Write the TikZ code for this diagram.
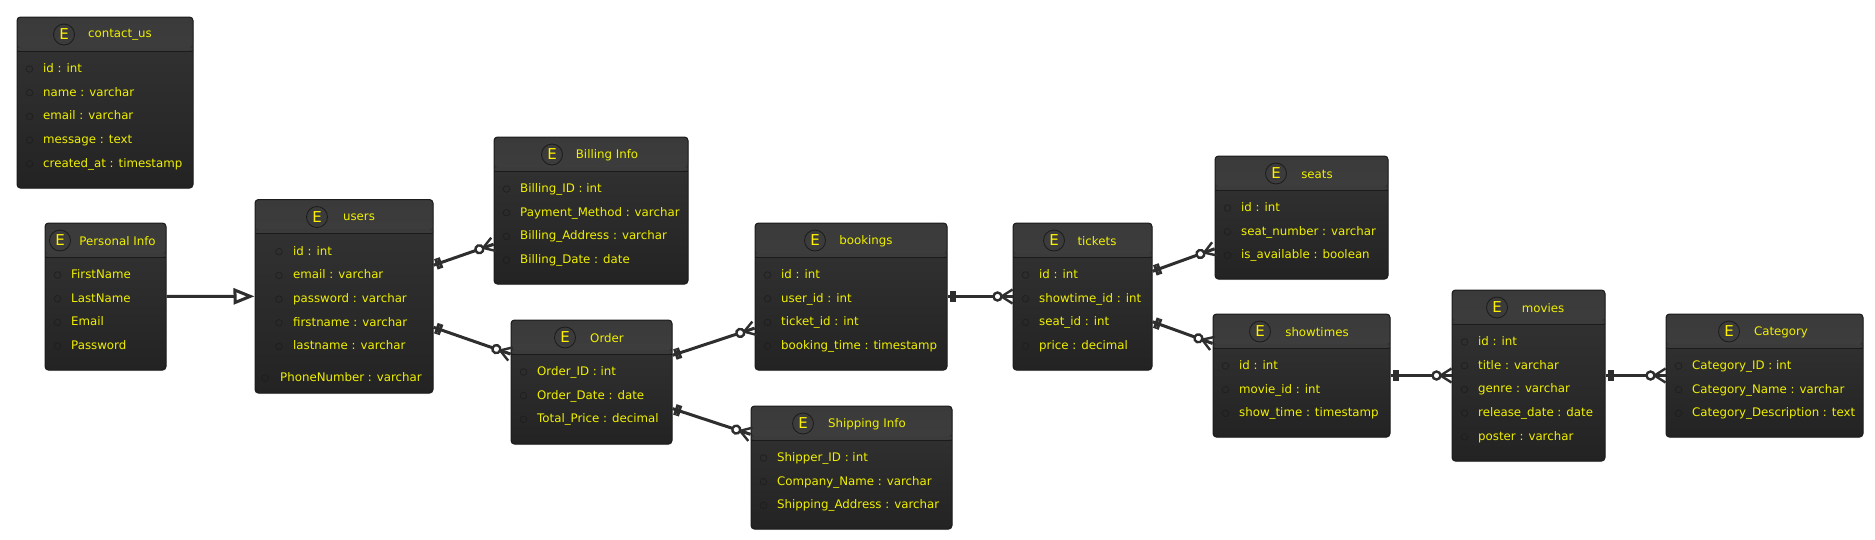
\documentclass[tikz,border=0pt]{standalone}
\usepackage{fontspec}
\setmainfont{DejaVu Sans}
\usetikzlibrary{arrows.meta,fit,shadows,decorations.markings}

\definecolor{linedark}{HTML}{2E2E2E}
\definecolor{borderdark}{HTML}{1B1B1B}
\definecolor{bodytop}{HTML}{343434}
\definecolor{bodybottom}{HTML}{232323}
\definecolor{headtop}{HTML}{3A3A3A}
\definecolor{headbottom}{HTML}{474747}
\definecolor{textyellow}{HTML}{F0F000}

\tikzset{
  entitybox/.style={draw=borderdark, line width=1pt, rounded corners=3.5pt, inner sep=0pt,
    top color=bodytop, bottom color=bodybottom, drop shadow={shadow xshift=0pt, shadow yshift=-1.2pt, opacity=.25},
    path picture={
      \shade[top color=headtop, bottom color=headbottom]
        (path picture bounding box.north west) rectangle ([yshift=-30pt]path picture bounding box.north east);
      \fill[headtop!90!headbottom] ([yshift=-30pt]path picture bounding box.north west) rectangle ([yshift=-34pt]path picture bounding box.north east);
      \draw[borderdark, line width=1pt] ([yshift=-34pt]path picture bounding box.north west) -- ([yshift=-34pt]path picture bounding box.north east);
    }},
  spotcircle/.style={circle, draw=borderdark, line width=.8pt, minimum size=21pt, inner sep=0pt, text=yellow, font=\fontsize{15}{16}\selectfont},
  titletext/.style={text=textyellow, inner sep=0pt, font=\fontsize{11.8}{14}\selectfont},
  rowtext/.style={text=textyellow, anchor=base west, inner sep=0pt, font=\fontsize{11.8}{14}\selectfont},
  rowdot/.style={draw=borderdark, opacity=.7, line width=.8pt},
  relline/.style={draw=linedark, line width=3pt},
  inherit/.style={relline, -{Triangle[open, fill=white, length=21pt, width=16pt]}},
  onemany/.style={relline, postaction={decorate, decoration={markings,
    mark=at position 4pt with {\fill[linedark] (-1.5pt,-5.5pt) rectangle (1.5pt,5.5pt);},
    mark=at position 7pt with {\fill[linedark] (-1.5pt,-5.5pt) rectangle (1.5pt,5.5pt);},
    mark=at position -15pt with {
      \draw[linedark, line width=2.4pt] (15pt,0pt) -- (3pt,0pt);
      \draw[linedark, line width=2.4pt] (15pt,7pt) -- (4pt,0pt) -- (15pt,-7pt);
      \draw[linedark, line width=2.4pt, fill=white] (0pt,0pt) circle (4pt);}}}},
}

% name, left, top, right, bottom, x of spot, x of title, title, rows
\newcommand{\entity}[9]{%
  \node[entitybox, fit={(#2,#3)(#4,#5)}] (#1) {};
  \node[spotcircle] (#1spot) at (#6,#3+17.5) {E};
  \node[titletext] (#1title) at (#7,#3+18) {#8};
  \foreach \rowlabel [count=\rownum] in {#9} {
    \node[rowtext] (#1row\rownum) at (#2+26,#3+55.5+23.7*\rownum-23.7) {\rowlabel};
    \draw[rowdot] (#2+12.5,#3+52+23.7*\rownum-23.7) circle (3.3);
  }
}

\begin{document}
\begin{tikzpicture}[x=1pt,y=-1pt]
  \useasboundingbox (0,0) rectangle (1875,539);

  \entity{contactus}{17}{17}{193}{188}{64}{120}{contact\_us}{id : int, name : varchar, email : varchar, message : text, created\_at : timestamp}
  \entity{personal}{45}{223}{166}{370}{60}{117.5}{Personal Info}{FirstName, LastName, Email, Password}
  \entity{billing}{494}{137}{688}{284}{552}{607}{Billing Info}{Billing\_ID : int, Payment\_Method : varchar, Billing\_Address : varchar, Billing\_Date : date}
  \entity{order}{511}{320}{672}{444}{565}{607}{Order}{Order\_ID : int, Order\_Date : date, Total\_Price : decimal}
  \entity{shipping}{751}{406}{952}{529}{803}{867}{Shipping Info}{Shipper\_ID : int, Company\_Name : varchar, Shipping\_Address : varchar}
  \entity{bookings}{755}{223}{947}{370}{815}{866}{bookings}{id : int, user\_id : int, ticket\_id : int, booking\_time : timestamp}
  \entity{tickets}{1013}{223}{1152}{370}{1054}{1097}{tickets}{id : int, showtime\_id : int, seat\_id : int, price : decimal}
  \entity{seats}{1215}{156}{1388}{279}{1276}{1317}{seats}{id : int, seat\_number : varchar, is\_available : boolean}
  \entity{showtimes}{1213}{314}{1390}{437}{1260}{1317}{showtimes}{id : int, movie\_id : int, show\_time : timestamp}
  \entity{movies}{1452}{290}{1605}{461}{1497}{1543}{movies}{id : int, title : varchar, genre : varchar, release\_date : date, poster : varchar}
  \entity{category}{1666}{314}{1863}{437}{1729}{1781}{Category}{Category\_ID : int, Category\_Name : varchar, Category\_Description : text}

  % users has its last row apart and its rows further in
  \node[entitybox, fit={(255,199.5)(433,393)}] (users) {};
  \node[spotcircle] (usersspot) at (317,217) {E};
  \node[titletext] (userstitle) at (359,217.5) {users};
  \foreach \rowlabel [count=\rownum] in {id : int, email : varchar, password : varchar, firstname : varchar, lastname : varchar} {
    \node[rowtext] (usersrow\rownum) at (293,231.3+23.7*\rownum) {\rowlabel};
    \draw[rowdot] (279,228+23.7*\rownum) circle (3.3);
  }
  \node[rowtext] (usersrow6) at (280,381.5) {PhoneNumber : varchar};
  \draw[rowdot] (265,378) circle (3.3);

  \draw[inherit] (personal) -- (users);
  \draw[onemany] (users) -- (billing);
  \draw[onemany] (users) -- (order);
  \draw[onemany] (order) -- (bookings);
  \draw[onemany] (order) -- (shipping);
  \draw[onemany] (bookings) -- (tickets);
  \draw[onemany] (tickets) -- (seats);
  \draw[onemany] (tickets) -- (showtimes);
  \draw[onemany] (showtimes) -- (movies);
  \draw[onemany] (movies) -- (category);
\end{tikzpicture}
\end{document}
